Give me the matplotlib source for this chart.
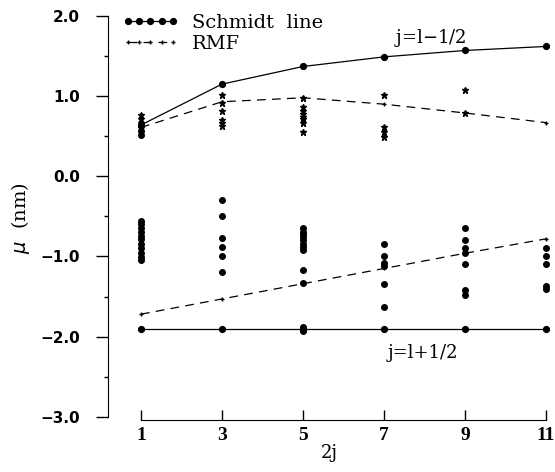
import numpy as np
import matplotlib.pyplot as plt
from matplotlib.ticker import MultipleLocator

# 2j values
two_j = [1, 3, 5, 7, 9, 11]

# Schmidt lines
schmidt_up = [0.64, 1.15, 1.37, 1.49, 1.57, 1.62]   # j=l-1/2
schmidt_dn = [-1.91, -1.91, -1.91, -1.91, -1.91, -1.91]  # j=l+1/2

# RMF results
rmf_up = [0.61, 0.93, 0.98, 0.90, 0.79, 0.67]
rmf_dn = [-1.72, -1.53, -1.34, -1.15, -0.96, -0.78]

# experimental data, stars (upper group)
star_x = [1, 1, 1, 1, 1,
          3, 3, 3, 3, 3, 3,
          5, 5, 5, 5, 5, 5, 5, 5,
          7, 7, 7, 7,
          9, 9]
star_y = [0.77, 0.71, 0.66, 0.63, 0.60,
          1.01, 0.92, 0.82, 0.70, 0.66, 0.63,
          0.98, 0.86, 0.82, 0.78, 0.74, 0.71, 0.67, 0.55,
          1.02, 0.61, 0.55, 0.49,
          1.08, 0.79]

# experimental data, dots
dot_x = [1, 1,
         1, 1, 1, 1, 1, 1, 1, 1, 1, 1, 1,
         3, 3, 3, 3, 3, 3,
         5, 5, 5, 5, 5, 5, 5, 5, 5, 5, 5, 5,
         7, 7, 7, 7, 7, 7,
         9, 9, 9, 9, 9, 9, 9,
         11, 11, 11, 11, 11]
dot_y = [0.56, 0.52,
         -0.56, -0.60, -0.64, -0.70, -0.74, -0.78, -0.84, -0.90, -0.96, -1.01, -1.05,
         -0.30, -0.49, -0.77, -0.88, -0.99, -1.20,
         -0.65, -0.69, -0.72, -0.76, -0.80, -0.84, -0.88, -0.92, -1.17, -1.33, -1.88, -1.93,
         -0.84, -0.99, -1.08, -1.12, -1.34, -1.63,
         -0.65, -0.80, -0.89, -0.96, -1.10, -1.42, -1.48,
         -0.90, -0.99, -1.10, -1.37, -1.40]

fig = plt.figure(figsize=(5.55, 4.72), dpi=100)
ax = fig.add_axes([0.1946, 0.1102, 0.7964, 0.8559])

ax.plot(two_j, schmidt_up, color='black', lw=0.9, marker='o', ms=4.2, label='Schmidt  line')
ax.plot(two_j, schmidt_dn, color='black', lw=0.9, marker='o', ms=4.2)
ax.plot(two_j, rmf_up, color='black', lw=0.9, ls=(0, (7, 5)), marker='+', ms=3.5, mew=1, label='RMF')
ax.plot(two_j, rmf_dn, color='black', lw=0.9, ls=(0, (7, 5)), marker='+', ms=3.5, mew=1)
ax.plot(star_x, star_y, ls='none', marker='*', color='black', ms=5)
ax.plot(dot_x, dot_y, ls='none', marker='o', color='black', ms=4)

ax.text(8.14, 1.73, 'j=l$-$1/2', family='DejaVu Serif', fontsize=13, ha='center', va='center')
ax.text(7.96, -2.21, 'j=l+1/2', family='DejaVu Serif', fontsize=13, ha='center', va='center')

ax.set_xlim(0.185, 11.1)
ax.set_ylim(-3.04, 2.0)
ax.spines['top'].set_visible(False)
ax.spines['right'].set_visible(False)
ax.spines['left'].set_bounds(-3, 2)
ax.spines['bottom'].set_bounds(1, 11)

ax.set_xticks(two_j)
ax.set_xticklabels([str(v) for v in two_j], family='Liberation Serif', fontweight='bold', fontsize=14)
ax.tick_params(axis='x', direction='in', length=7, width=1, pad=5)

ax.yaxis.set_major_locator(MultipleLocator(1.0))
ax.yaxis.set_minor_locator(MultipleLocator(0.5))
ax.set_yticks([2, 1, 0, -1, -2, -3])
ax.set_yticklabels(['2.0', '1.0', '0.0', '\u22121.0', '\u22122.0', '\u22123.0'],
                   family='DejaVu Sans', fontweight='bold', fontsize=11)
ax.tick_params(axis='y', which='major', direction='out', length=9, width=1, pad=11)
ax.tick_params(axis='y', which='minor', direction='out', length=3, width=1)

ax.set_xlabel('2j', family='DejaVu Serif', fontsize=13, labelpad=0)
ax.set_ylabel('$\\mu$  (nm)', family='DejaVu Serif', fontsize=14, labelpad=6)

leg = ax.legend(loc='upper left', frameon=False, numpoints=5, handlelength=2.9,
                prop={'family': 'DejaVu Serif', 'size': 14}, borderaxespad=0.1,
                handletextpad=0.7, labelspacing=0.15, bbox_to_anchor=(0.01, 1.03))

fig.savefig('out.png', dpi=100)
